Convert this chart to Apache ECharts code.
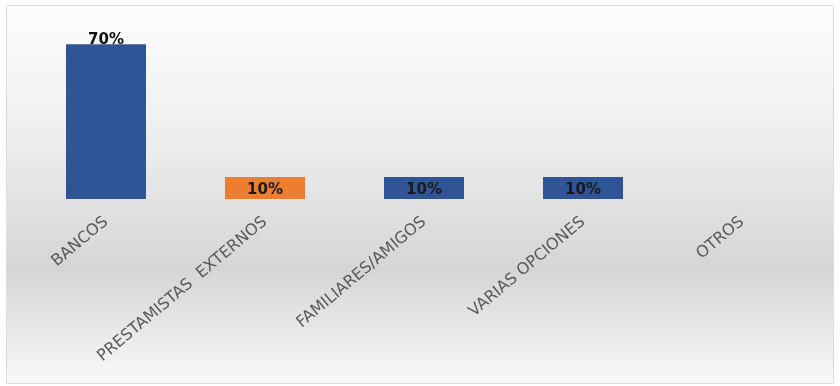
<!DOCTYPE html>
<html>
<head>
<meta charset="utf-8">
<style>
  html, body { margin: 0; padding: 0; background: #ffffff; }
  #chart { width: 840px; height: 386px; }
</style>
<script src="https://cdn.jsdelivr.net/npm/echarts@6/dist/echarts.min.js"></script>
</head>
<body>
<div id="chart"></div>
<script>
// Fuentes de financiamiento (porcentaje de respuestas)
const categories = ['BANCOS', 'PRESTAMISTAS  EXTERNOS', 'FAMILIARES/AMIGOS', 'VARIAS OPCIONES', 'OTROS'];
const values = [70, 10, 10, 10, 0];
const barColors = ['#2f5597', '#ed7d31', '#2f5597', '#2f5597', '#2f5597'];

const chart = echarts.init(document.getElementById('chart'), null, { renderer: 'canvas' });

const seriesData = values.map((v, i) => ({
  value: v,
  itemStyle: { color: barColors[i] },
  label: v >= 50
    ? { show: true, position: 'insideTop', offset: [0, -17], color: '#111111' }
    : { show: v > 0, position: 'inside', offset: [0, 2], color: '#1a1a1a' }
}));

chart.setOption({
  animation: false,
  graphic: [{
    type: 'rect',
    silent: true,
    z: -10,
    shape: { x: 6.5, y: 5.5, width: 827, height: 378 },
    style: {
      fill: new echarts.graphic.LinearGradient(0, 0, 0, 1, [
        { offset: 0, color: '#fdfdfd' },
        { offset: 0.35, color: '#eeeeee' },
        { offset: 0.7, color: '#d5d5d5' },
        { offset: 1, color: '#f9f9f9' }
      ]),
      stroke: '#dcdcdc',
      lineWidth: 1
    }
  }],
  grid: { left: 26.5, right: 18.5, top: 22, bottom: 187, containLabel: false },
  xAxis: {
    type: 'category',
    data: categories,
    axisLine: { show: false },
    axisTick: { show: false },
    splitLine: { show: false },
    axisLabel: {
      interval: 0,
      rotate: 40,
      margin: 21,
      color: '#595959',
      fontFamily: 'DejaVu Sans',
      fontSize: 16
    }
  },
  yAxis: {
    type: 'value',
    min: 0,
    max: 80,
    show: false,
    splitLine: { show: false }
  },
  series: [{
    type: 'bar',
    data: seriesData,
    barWidth: 80,
    label: {
      formatter: '{c}%',
      fontFamily: 'DejaVu Sans',
      fontSize: 15,
      fontWeight: 'bold'
    }
  }]
});
</script>
</body>
</html>
